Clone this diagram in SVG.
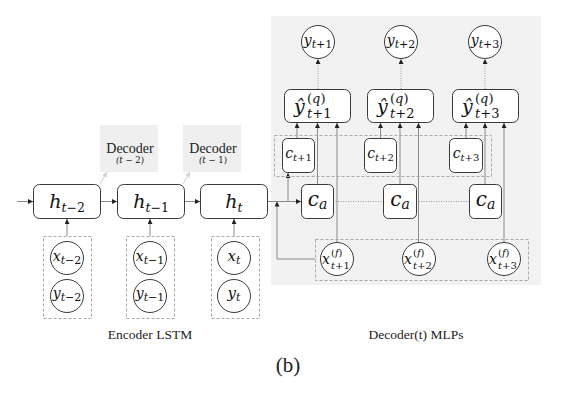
<svg xmlns="http://www.w3.org/2000/svg" width="566" height="404" viewBox="0 0 566 404">
<style>
.box{fill:#fff;stroke:#3a3a3a;stroke-width:1}
.circ{fill:#fff;stroke:#3a3a3a;stroke-width:1}
.dash{fill:none;stroke:#a8a8a8;stroke-width:1;stroke-dasharray:3,2}
.ln{fill:none;stroke:#8a8a8a;stroke-width:1}
.dot{fill:none;stroke:#9a9a9a;stroke-width:1;stroke-dasharray:1,1.5}
.lt{fill:none;stroke:#d0d0d0;stroke-width:1}
.m{font-family:"DejaVu Serif","Liberation Serif",serif;font-style:italic;fill:#111}
.u{font-style:normal}
.lab{font-family:"Liberation Serif","DejaVu Serif",serif;fill:#222}
</style>
<defs>
<marker id="ar" viewBox="0 0 6 6" refX="6" refY="3" markerWidth="5" markerHeight="5" orient="auto" markerUnits="userSpaceOnUse">
<path d="M0,0 L6,3 L0,6 z" fill="#222"/>
</marker>
<marker id="arl" viewBox="0 0 6 6" refX="6" refY="3" markerWidth="5" markerHeight="5" orient="auto" markerUnits="userSpaceOnUse">
<path d="M0,0 L6,3 L0,6 z" fill="#d0d0d0"/>
</marker>
</defs>
<rect id="decoder-panel" x="271" y="16" width="270" height="269" fill="#f2f2f2"/>
<g id="connectors">
<line class="ln" x1="17" y1="201.5" x2="33" y2="201.5" marker-end="url(#ar)"/>
<line class="ln" x1="100" y1="201.5" x2="117" y2="201.5" marker-end="url(#ar)"/>
<line class="ln" x1="184" y1="201.5" x2="200" y2="201.5" marker-end="url(#ar)"/>
<line class="ln" x1="67" y1="236" x2="67" y2="219" marker-end="url(#ar)"/>
<line class="ln" x1="150" y1="236" x2="150" y2="219" marker-end="url(#ar)"/>
<line class="ln" x1="234" y1="236" x2="234" y2="219" marker-end="url(#ar)"/>
<line class="lt" x1="100" y1="184" x2="107" y2="172" marker-end="url(#arl)"/>
<line class="lt" x1="183" y1="184" x2="190" y2="172" marker-end="url(#arl)"/>
<polyline class="ln" points="267,201.5 301,201.5" marker-end="url(#ar)"/>
<polyline class="ln" points="288,201.5 288,173" marker-end="url(#ar)"/>
<polyline class="ln" points="315,259 277,259 277,201.5" marker-end="url(#ar)"/>
<line class="dot" x1="333" y1="201.5" x2="383" y2="201.5"/>
<line class="dot" x1="416" y1="201.5" x2="469" y2="201.5"/>
<line class="ln" x1="297" y1="138" x2="297" y2="123" marker-end="url(#ar)"/>
<line class="ln" x1="317.5" y1="184" x2="317.5" y2="123" marker-end="url(#ar)"/>
<line class="ln" x1="337" y1="242" x2="337" y2="123" marker-end="url(#ar)"/>
<line class="ln" x1="380.5" y1="138" x2="380.5" y2="123" marker-end="url(#ar)"/>
<line class="ln" x1="400" y1="184" x2="400" y2="123" marker-end="url(#ar)"/>
<line class="ln" x1="418.5" y1="242" x2="418.5" y2="123" marker-end="url(#ar)"/>
<line class="ln" x1="466" y1="138" x2="466" y2="123" marker-end="url(#ar)"/>
<line class="ln" x1="485" y1="184" x2="485" y2="123" marker-end="url(#ar)"/>
<line class="ln" x1="504" y1="242" x2="504" y2="123" marker-end="url(#ar)"/>
<line class="dot" x1="318" y1="89" x2="318" y2="59" marker-end="url(#ar)"/>
<line class="dot" x1="401" y1="89" x2="401" y2="59" marker-end="url(#ar)"/>
<line class="dot" x1="485" y1="89" x2="485" y2="59" marker-end="url(#ar)"/>
</g>
<rect class="dash" x="43.5" y="236.5" width="48" height="82"/>
<rect class="dash" x="126.5" y="236.5" width="48" height="82"/>
<rect class="dash" x="211.5" y="236.5" width="48" height="82"/>
<rect class="dash" x="274.5" y="135.5" width="217" height="41"/>
<rect class="dash" x="315.5" y="239.5" width="213" height="41"/>
<g id="dec-label-1">
<rect x="100" y="125" width="58" height="47" fill="#efefef"/>
<text class="lab" x="130" y="153" font-size="14" text-anchor="middle">Decoder</text>
<text class="m" x="130" y="163" font-size="8.5" text-anchor="middle">(t <tspan class="u">− 2)</tspan></text>
</g>
<g id="dec-label-2">
<rect x="183" y="125" width="58" height="47" fill="#efefef"/>
<text class="lab" x="213" y="153" font-size="14" text-anchor="middle">Decoder</text>
<text class="m" x="213" y="163" font-size="8.5" text-anchor="middle">(t <tspan class="u">− 1)</tspan></text>
</g>
<g id="h-t-2">
<rect class="box" x="33.5" y="184.5" width="67" height="34" rx="6"/>
<text class="m" x="67" y="208" font-size="19" text-anchor="middle">h<tspan font-size="12.5" dy="4">t</tspan><tspan class="u" font-size="12.5">−2</tspan></text>
</g>
<g id="h-t-1">
<rect class="box" x="117.5" y="184.5" width="67" height="34" rx="6"/>
<text class="m" x="151" y="208" font-size="19" text-anchor="middle">h<tspan font-size="12.5" dy="4">t</tspan><tspan class="u" font-size="12.5">−1</tspan></text>
</g>
<g id="h-t">
<rect class="box" x="200.5" y="184.5" width="67" height="34" rx="6"/>
<text class="m" x="234" y="208" font-size="19" text-anchor="middle">h<tspan font-size="12.5" dy="4">t</tspan></text>
</g>
<g id="x-t-2"><circle class="circ" cx="67" cy="258" r="16.5"/><text class="m" x="67" y="261" font-size="14" text-anchor="middle">x<tspan font-size="11" dy="3">t</tspan><tspan class="u" font-size="11">−2</tspan></text></g>
<g id="y-t-2"><circle class="circ" cx="67" cy="296" r="16.5"/><text class="m" x="67" y="298" font-size="14" text-anchor="middle">y<tspan font-size="11" dy="3">t</tspan><tspan class="u" font-size="11">−2</tspan></text></g>
<g id="x-t-1"><circle class="circ" cx="150" cy="258" r="16.5"/><text class="m" x="150" y="261" font-size="14" text-anchor="middle">x<tspan font-size="11" dy="3">t</tspan><tspan class="u" font-size="11">−1</tspan></text></g>
<g id="y-t-1"><circle class="circ" cx="150" cy="296" r="16.5"/><text class="m" x="150" y="298" font-size="14" text-anchor="middle">y<tspan font-size="11" dy="3">t</tspan><tspan class="u" font-size="11">−1</tspan></text></g>
<g id="x-t"><circle class="circ" cx="234" cy="258" r="16.5"/><text class="m" x="234" y="261" font-size="15" text-anchor="middle">x<tspan font-size="11" dy="3">t</tspan></text></g>
<g id="y-t"><circle class="circ" cx="234" cy="296" r="16.5"/><text class="m" x="234" y="298" font-size="15" text-anchor="middle">y<tspan font-size="11" dy="3">t</tspan></text></g>
<g id="y-t+1"><circle class="circ" cx="318" cy="42" r="16.5"/><text class="m" x="318" y="45" font-size="14" text-anchor="middle">y<tspan font-size="11" dy="3">t</tspan><tspan class="u" font-size="11">+1</tspan></text></g>
<g id="y-t+2"><circle class="circ" cx="401" cy="42" r="16.5"/><text class="m" x="401" y="45" font-size="14" text-anchor="middle">y<tspan font-size="11" dy="3">t</tspan><tspan class="u" font-size="11">+2</tspan></text></g>
<g id="y-t+3"><circle class="circ" cx="485" cy="42" r="16.5"/><text class="m" x="485" y="45" font-size="14" text-anchor="middle">y<tspan font-size="11" dy="3">t</tspan><tspan class="u" font-size="11">+3</tspan></text></g>
<g id="yhat-t+1">
<rect class="box" x="284.5" y="89.5" width="66" height="33" rx="6"/>
<text class="m" x="294" y="113" font-size="19">ŷ</text>
<text class="m" x="307" y="103" font-size="13"><tspan class="u">(</tspan>q<tspan class="u">)</tspan></text>
<text class="m" x="307" y="118" font-size="13">t<tspan class="u">+1</tspan></text>
</g>
<g id="yhat-t+2">
<rect class="box" x="367.5" y="89.5" width="66" height="33" rx="6"/>
<text class="m" x="377" y="113" font-size="19">ŷ</text>
<text class="m" x="390" y="103" font-size="13"><tspan class="u">(</tspan>q<tspan class="u">)</tspan></text>
<text class="m" x="390" y="118" font-size="13">t<tspan class="u">+2</tspan></text>
</g>
<g id="yhat-t+3">
<rect class="box" x="452.5" y="89.5" width="66" height="33" rx="6"/>
<text class="m" x="462" y="113" font-size="19">ŷ</text>
<text class="m" x="475" y="103" font-size="13"><tspan class="u">(</tspan>q<tspan class="u">)</tspan></text>
<text class="m" x="475" y="118" font-size="13">t<tspan class="u">+3</tspan></text>
</g>
<g id="c-t+1"><rect class="box" x="282.5" y="138.5" width="32" height="34" rx="5"/><text class="m" x="298.5" y="158" font-size="14" text-anchor="middle">c<tspan font-size="10" dy="3">t</tspan><tspan class="u" font-size="10">+1</tspan></text></g>
<g id="c-t+2"><rect class="box" x="364.5" y="138.5" width="32" height="34" rx="5"/><text class="m" x="380.5" y="158" font-size="14" text-anchor="middle">c<tspan font-size="10" dy="3">t</tspan><tspan class="u" font-size="10">+2</tspan></text></g>
<g id="c-t+3"><rect class="box" x="449.5" y="138.5" width="33" height="34" rx="5"/><text class="m" x="466" y="158" font-size="14" text-anchor="middle">c<tspan font-size="10" dy="3">t</tspan><tspan class="u" font-size="10">+3</tspan></text></g>
<g id="ca-1"><rect class="box" x="301.5" y="184.5" width="32" height="34" rx="5"/><text class="m" x="317.5" y="206" font-size="20" text-anchor="middle">c<tspan font-size="14" dy="3">a</tspan></text></g>
<g id="ca-2"><rect class="box" x="383.5" y="184.5" width="33" height="34" rx="5"/><text class="m" x="400" y="206" font-size="20" text-anchor="middle">c<tspan font-size="14" dy="3">a</tspan></text></g>
<g id="ca-3"><rect class="box" x="469.5" y="184.5" width="32" height="34" rx="5"/><text class="m" x="485.5" y="206" font-size="20" text-anchor="middle">c<tspan font-size="14" dy="3">a</tspan></text></g>
<g id="xf-t+1"><circle class="circ" cx="337" cy="259" r="16.5"/><text class="m" x="322" y="264" font-size="14">x</text><text class="m" x="331" y="256" font-size="10"><tspan class="u">(</tspan>f<tspan class="u">)</tspan></text><text class="m" x="331" y="269" font-size="10">t<tspan class="u">+1</tspan></text></g>
<g id="xf-t+2"><circle class="circ" cx="419" cy="259" r="16.5"/><text class="m" x="404" y="264" font-size="14">x</text><text class="m" x="413" y="256" font-size="10"><tspan class="u">(</tspan>f<tspan class="u">)</tspan></text><text class="m" x="413" y="269" font-size="10">t<tspan class="u">+2</tspan></text></g>
<g id="xf-t+3"><circle class="circ" cx="504" cy="259" r="16.5"/><text class="m" x="489" y="264" font-size="14">x</text><text class="m" x="498" y="256" font-size="10"><tspan class="u">(</tspan>f<tspan class="u">)</tspan></text><text class="m" x="498" y="269" font-size="10">t<tspan class="u">+3</tspan></text></g>
<text class="lab" x="150" y="339" font-size="13.5" text-anchor="middle">Encoder LSTM</text>
<text class="lab" x="416" y="339" font-size="13.5" text-anchor="middle">Decoder(t) MLPs</text>
<text class="lab" x="288" y="372" font-size="21" text-anchor="middle">(b)</text>
</svg>
